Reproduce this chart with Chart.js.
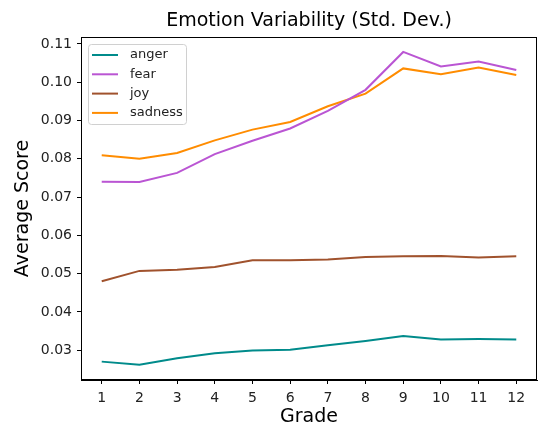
<!DOCTYPE html>
<html>
<head>
<meta charset="utf-8">
<script src="https://cdn.jsdelivr.net/npm/chart.js@4"></script>
<style>
  html, body { margin: 0; padding: 0; background: #fff; }
  #wrap { width: 538px; height: 432px; }
</style>
</head>
<body>
<div id="wrap"><canvas id="emotionChart" width="538" height="432"></canvas></div>
<script>
const grades = [1, 2, 3, 4, 5, 6, 7, 8, 9, 10, 11, 12];
const yTicks = [0.03, 0.04, 0.05, 0.06, 0.07, 0.08, 0.09, 0.10, 0.11];

const anger   = [0.0270, 0.0262, 0.0279, 0.0292, 0.0299, 0.0301, 0.0313, 0.0324, 0.0337, 0.0328, 0.0329, 0.0328];
const fear    = [0.0740, 0.0739, 0.0763, 0.0812, 0.0847, 0.0879, 0.0925, 0.0980, 0.1079, 0.1041, 0.1054, 0.1032];
const joy     = [0.0480, 0.0507, 0.0510, 0.0517, 0.0535, 0.0535, 0.0537, 0.0543, 0.0545, 0.0546, 0.0542, 0.0545];
const sadness = [0.0809, 0.0800, 0.0815, 0.0848, 0.0876, 0.0896, 0.0937, 0.0970, 0.1036, 0.1021, 0.1038, 0.1019];

const font = "'DejaVu Sans', sans-serif";
const titleText = 'Emotion Variability (Std. Dev.)';

function series(label, values, color) {
    return {
        label: label,
        data: grades.map((g, i) => ({x: g, y: values[i]})),
        borderColor: color,
        backgroundColor: color,
        borderWidth: 2,
        pointRadius: 0,
        tension: 0,
        fill: false
    };
}

// box around the plot, title centred over the plot, legend inside upper left
const frameAndLegend = {
    id: 'frameAndLegend',
    afterDatasetsDraw(chart) {
        const {ctx, chartArea: a} = chart;
        ctx.save();
        ctx.strokeStyle = '#000';
        ctx.lineWidth = 1;
        ctx.strokeRect(a.left + 0.5, a.top + 0.5, a.right - a.left - 1, a.bottom - a.top - 1);

        ctx.fillStyle = '#000';
        ctx.font = '19px ' + font;
        ctx.textAlign = 'center';
        ctx.textBaseline = 'middle';
        ctx.fillText(titleText, (a.left + a.right) / 2, 21);

        const x0 = a.left + 7, y0 = a.top + 7;
        const w = 98, h = 80;
        ctx.fillStyle = 'rgba(255,255,255,0.8)';
        ctx.strokeStyle = '#d0d0d0';
        ctx.beginPath();
        ctx.roundRect(x0 + 0.5, y0 + 0.5, w, h, 3);
        ctx.fill();
        ctx.stroke();

        ctx.font = '13px ' + font;
        ctx.textAlign = 'left';
        chart.data.datasets.forEach((ds, i) => {
            const ly = y0 + 11 + i * 19.3;
            ctx.strokeStyle = ds.borderColor;
            ctx.lineWidth = 2;
            ctx.beginPath();
            ctx.moveTo(x0 + 4, ly);
            ctx.lineTo(x0 + 30, ly);
            ctx.stroke();
            ctx.fillStyle = '#222';
            ctx.fillText(ds.label, x0 + 42, ly);
        });
        ctx.restore();
    }
};

new Chart(document.getElementById('emotionChart'), {
    type: 'line',
    data: {
        datasets: [
            series('anger', anger, '#008b8b'),
            series('fear', fear, '#ba55d3'),
            series('joy', joy, '#a0522d'),
            series('sadness', sadness, '#ff8c00')
        ]
    },
    options: {
        responsive: false,
        animation: false,
        layout: {padding: {left: 0, right: 1, top: 37, bottom: 0}},
        plugins: {
            legend: {display: false},
            tooltip: {enabled: false},
            title: {display: false}
        },
        scales: {
            x: {
                type: 'linear',
                min: 0.45,
                max: 12.55,
                afterBuildTicks: s => { s.ticks = grades.map(v => ({value: v})); },
                afterFit: s => { s.height = 52; },
                grid: {drawOnChartArea: false, drawTicks: true, tickLength: 4, color: '#000'},
                border: {display: true, color: '#000'},
                ticks: {color: '#222', font: {family: font, size: 14}, padding: 6, maxRotation: 0, callback: v => v},
                title: {display: true, text: 'Grade', color: '#000', font: {family: font, size: 19}, padding: {top: 2}}
            },
            y: {
                min: 0.0222,
                max: 0.1118,
                afterBuildTicks: s => { s.ticks = yTicks.map(v => ({value: v})); },
                afterFit: s => { s.width = 81; },
                grid: {drawOnChartArea: false, drawTicks: true, tickLength: 4, color: '#000'},
                border: {display: true, color: '#000'},
                ticks: {color: '#222', font: {family: font, size: 14}, padding: 5, callback: v => v.toFixed(2)},
                title: {display: true, text: 'Average Score', color: '#000', font: {family: font, size: 19}, padding: {top: 12, bottom: 2}}
            }
        }
    },
    plugins: [frameAndLegend]
});
</script>
</body>
</html>
